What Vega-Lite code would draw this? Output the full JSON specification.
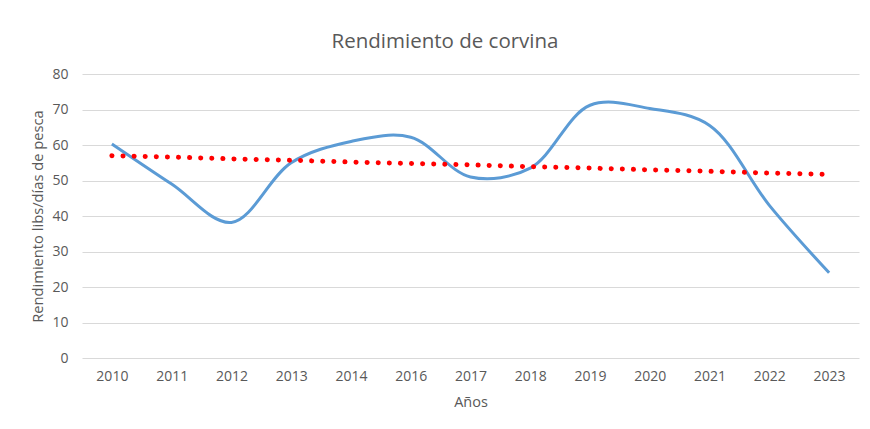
{
  "$schema": "https://vega.github.io/schema/vega-lite/v6.json",
  "autosize": {"type": "none"},
  "width": 777,
  "height": 284,
  "padding": {"left": 82, "top": 74, "right": 11, "bottom": 71},
  "background": "white",
  "title": {
    "text": "Rendimiento de corvina",
    "font": "Open Sans",
    "fontSize": 20.5,
    "fontWeight": "normal",
    "color": "#595959",
    "anchor": "middle",
    "frame": "bounds",
    "offset": 15
  },
  "data": {
    "values": [
      {"anio": "2010", "rend": 60.3, "tend": 57.0},
      {"anio": "2011", "rend": 49.0, "tend": 56.6},
      {"anio": "2012", "rend": 38.2, "tend": 56.1},
      {"anio": "2013", "rend": 55.0, "tend": 55.7},
      {"anio": "2014", "rend": 61.0, "tend": 55.2},
      {"anio": "2016", "rend": 62.2, "tend": 54.8},
      {"anio": "2017", "rend": 51.0, "tend": 54.4},
      {"anio": "2018", "rend": 53.5, "tend": 53.9},
      {"anio": "2019", "rend": 71.2, "tend": 53.5},
      {"anio": "2020", "rend": 70.3, "tend": 53.0},
      {"anio": "2021", "rend": 65.5, "tend": 52.6},
      {"anio": "2022", "rend": 43.0, "tend": 52.1},
      {"anio": "2023", "rend": 24.0, "tend": 51.7}
    ]
  },
  "encoding": {
    "x": {
      "field": "anio",
      "type": "ordinal",
      "sort": null,
      "scale": {"paddingInner": 1, "paddingOuter": 0.5},
      "axis": {
        "title": "Años",
        "titleFont": "Open Sans",
        "titleFontSize": 14.5,
        "titleFontWeight": "normal",
        "titleColor": "#595959",
        "titlePadding": 12,
        "labelFont": "Open Sans",
        "labelFontSize": 14,
        "labelColor": "#595959",
        "labelAngle": 0,
        "labelPadding": 11,
        "ticks": false,
        "domain": false,
        "grid": false
      }
    }
  },
  "layer": [
    {
      "mark": {"type": "line", "color": "#5B9BD5", "strokeWidth": 3, "interpolate": "catmull-rom"},
      "encoding": {
        "y": {
          "field": "rend",
          "type": "quantitative",
          "scale": {"domain": [0, 80]},
          "axis": {
            "title": "Rendimiento libs/días de pesca",
            "titleFont": "Open Sans",
            "titleFontSize": 14.7,
            "titleFontWeight": "normal",
            "titleColor": "#595959",
            "titlePadding": 6,
            "labelFont": "Open Sans",
            "labelFontSize": 14,
            "labelColor": "#595959",
            "labelPadding": 14,
            "tickCount": 8,
            "ticks": false,
            "domain": false,
            "grid": true,
            "gridColor": "#d9d9d9",
            "gridWidth": 1
          }
        }
      }
    },
    {
      "mark": {"type": "line", "color": "#FF0000", "strokeWidth": 5, "strokeCap": "round", "strokeDash": [0.1, 11]},
      "encoding": {
        "y": {"field": "tend", "type": "quantitative"}
      }
    }
  ],
  "config": {"view": {"stroke": null}}
}
